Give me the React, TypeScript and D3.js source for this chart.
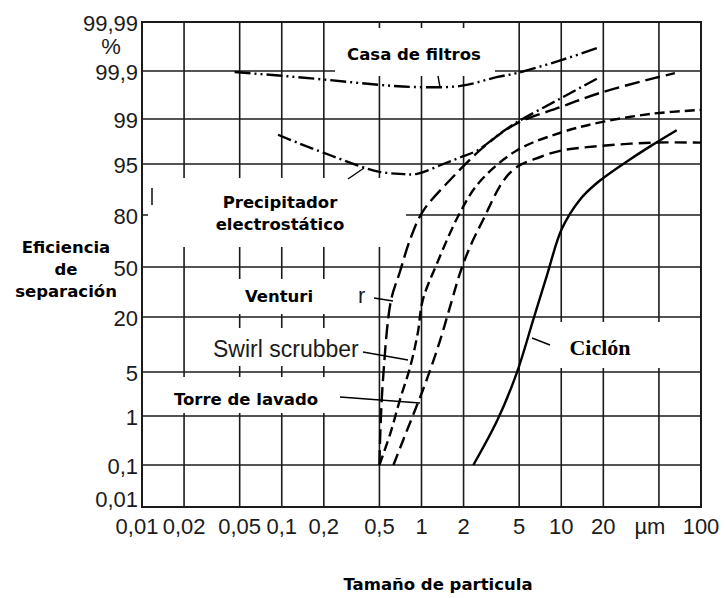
import * as d3 from "d3";

// eje x: tamaño de partícula (µm), escala log
const xTicks = [0.01, 0.02, 0.05, 0.1, 0.2, 0.5, 1, 2, 5, 10, 20, 50, 100];
const xTickLabels = ["0,01", "0,02", "0,05", "0,1", "0,2", "0,5", "1", "2", "5", "10", "20", "µm", "100"];

// eje y: eficiencia de separación (%), escala de probabilidad
const yTicks = [0.01, 0.1, 1, 5, 20, 50, 80, 95, 99, 99.9, 99.99];
const yTickLabels = ["0,01", "0,1", "1", "5", "20", "50", "80", "95", "99", "99,9", "99,99"];

// curvas [tamaño µm, eficiencia %]
const casaFiltros: [number, number][] = [
  [0.046, 99.88], [0.1, 99.81], [0.22, 99.73], [0.5, 99.64], [0.87, 99.6],
  [1.9, 99.62], [3.5, 99.79], [4.8, 99.86], [10, 99.92], [19, 99.944],
];
const precipitador: [number, number][] = [
  [0.094, 97.6], [0.135, 96.8], [0.22, 95.8], [0.36, 94.4], [0.5, 92.7], [0.7, 92.1],
  [0.93, 92.1], [1.43, 95], [1.9, 95.6], [2.5, 96.2], [3.65, 97.7], [4.8, 98.7],
  [9.8, 99.38], [19, 99.79],
];
const venturi: [number, number][] = [
  [0.5, 0.1], [0.506, 0.61], [0.53, 4.27], [0.605, 30], [0.7, 47], [0.83, 66],
  [1.02, 81], [1.6, 90.3], [2.9, 96.7], [4.8, 98.6], [9.8, 99.22], [19, 99.49],
  [47, 99.77], [65, 99.86],
];
const swirl: [number, number][] = [
  [0.5, 0.1], [0.6, 0.69], [0.7, 2.45], [0.83, 6.4], [0.94, 15.6], [1.02, 30],
  [1.29, 52], [1.88, 80.6], [2.6, 89.7], [4.8, 96.2], [10, 97.8], [19, 98.7],
  [45, 99.1], [100, 99.17],
];
const torre: [number, number][] = [
  [0.63, 0.1], [0.74, 0.56], [0.9, 1.55], [1.09, 4.3], [1.36, 13.7], [1.65, 30],
  [1.88, 46], [2.22, 61.5], [2.75, 77], [3.8, 89.7], [4.8, 94.1], [7, 95.6],
  [10, 96.2], [19, 96.6], [45, 96.9], [100, 96.9],
];
const ciclon: [number, number][] = [
  [2.35, 0.1], [3.5, 0.93], [4.8, 4.9], [6.3, 19.2], [7.9, 45], [10.1, 72],
  [13.6, 84.5], [18, 89.4], [31, 95.4], [45, 96.7], [67, 98],
];

// posiciones (px) de las marcas del eje y en el original escaneado
const yTickPos = [507, 465, 416, 372, 317, 267, 215, 164, 119, 71, 22];

const curves = [
  { key: "casa", data: casaFiltros, dash: "16,4,2,4,2,4" },
  { key: "prec", data: precipitador, dash: "14,4,2,4" },
  { key: "vent", data: venturi, dash: "15,6" },
  { key: "swirl", data: swirl, dash: "10,5" },
  { key: "torre", data: torre, dash: "12,6" },
  { key: "ciclon", data: ciclon, dash: null },
];

const W = 725;
const H = 598;
const L = 142, R = 701, T = 22, B = 507;
const ink = "#1b1b1b";
const numFont = "'Liberation Sans', Arial, sans-serif";
const boldFont = "'DejaVu Sans', sans-serif";

export default function App() {
  const x = d3.scaleLog().domain([0.01, 100]).range([L, R]);
  const y = d3.scaleLinear().domain(yTicks).range(yTickPos);
  const line = d3
    .line<[number, number]>()
    .x((d) => x(d[0]))
    .y((d) => y(d[1]))
    .curve(d3.curveCatmullRom.alpha(0.5));

  // fondos blancos de las etiquetas (tapan la rejilla)
  const boxes = [
    [335, 28, 160, 48],
    [148, 178, 258, 69],
    [195, 279, 165, 35],
    [195, 328, 170, 38],
    [146, 377, 194, 36],
    [545, 322, 145, 46],
  ];
  const pointers = [
    [438, 76, 440, 87],
    [348, 179, 364, 168],
    [374, 298, 393, 301],
    [363, 352, 408, 360],
    [340, 397, 420, 403],
    [550, 345, 532, 338],
  ];

  return (
    <svg width={W} height={H} style={{ position: "absolute", left: 0, top: 0, background: "#fff" }}>
      <g stroke={ink} strokeWidth={1.6}>
        {xTicks.map((t) => (
          <line key={"vx" + t} x1={x(t)} x2={x(t)} y1={T} y2={B} />
        ))}
        {yTicks.map((t) => (
          <line key={"hy" + t} x1={L} x2={R} y1={y(t)} y2={y(t)} />
        ))}
      </g>
      {boxes.map((b, i) => (
        <rect key={"b" + i} x={b[0]} y={b[1]} width={b[2]} height={b[3]} fill="#fff" />
      ))}
      <rect x={L} y={T} width={R - L} height={B - T} fill="none" stroke={ink} strokeWidth={2} />
      <line x1={152} x2={152} y1={188} y2={205} stroke={ink} strokeWidth={1.6} />

      <g fill="none" stroke="#000" strokeWidth={2.4}>
        {curves.map((c) => (
          <path key={c.key} d={line(c.data) || ""} strokeDasharray={c.dash || undefined} />
        ))}
      </g>
      <g stroke="#000" strokeWidth={1.4}>
        {pointers.map((p, i) => (
          <line key={"p" + i} x1={p[0]} y1={p[1]} x2={p[2]} y2={p[3]} />
        ))}
      </g>

      <g fontFamily={numFont} fontSize={22} fill={ink}>
        {yTicks.map((t, i) => (
          <text key={"yl" + t} x={138} y={y(t) + (i === 0 ? -8 : 1)} dy="0.36em" textAnchor="end">
            {yTickLabels[i]}
          </text>
        ))}
        <text x={111} y={46} dy="0.36em" textAnchor="middle">%</text>
        {xTicks.map((t, i) => (
          <text
            key={"xl" + t}
            x={x(t) + (i === 0 ? -5 : xTickLabels[i] === "µm" ? -9 : 0)}
            y={534}
            textAnchor="middle"
          >
            {xTickLabels[i]}
          </text>
        ))}
        <text x={358} y={303}>r</text>
        <text x={213} y={357} fontSize={23}>Swirl scrubber</text>
      </g>

      <g fontFamily={boldFont} fontWeight="bold" fontSize={16.5} fill="#000">
        <text x={414} y={60} textAnchor="middle">Casa de filtros</text>
        <text x={280} y={208} textAnchor="middle">Precipitador</text>
        <text x={280} y={230} textAnchor="middle">electrostático</text>
        <text x={279} y={302} textAnchor="middle">Venturi</text>
        <text x={246} y={405} textAnchor="middle">Torre de lavado</text>
        <text x={66} y={253} textAnchor="middle">Eficiencia</text>
        <text x={66} y={275} textAnchor="middle">de</text>
        <text x={66} y={297} textAnchor="middle">separación</text>
        <text x={438} y={590} textAnchor="middle">Tamaño de particula</text>
      </g>
      <text
        x={600}
        y={355}
        textAnchor="middle"
        fontFamily="'Liberation Serif', 'Times New Roman', serif"
        fontWeight="bold"
        fontSize={22}
        fill="#000"
      >
        Ciclón
      </text>
    </svg>
  );
}
